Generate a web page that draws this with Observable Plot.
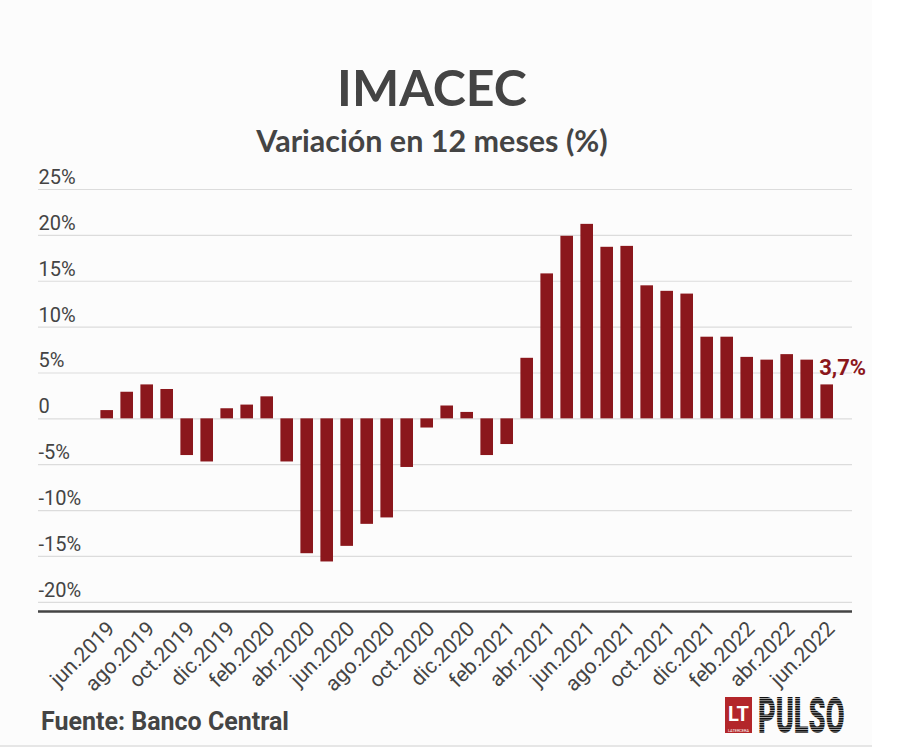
<!DOCTYPE html>
<html>
<head>
<meta charset="utf-8">
<script src="https://cdn.jsdelivr.net/npm/d3@7"></script>
<script src="https://cdn.jsdelivr.net/npm/@observablehq/plot@0.6"></script>
<style>
  html, body { margin: 0; padding: 0; background: #ffffff; }
  #page { position: relative; width: 918px; height: 747px; overflow: hidden; background: #ffffff; }
  #card { position: absolute; left: 0; top: 0; width: 872px; height: 745px; background: #fcfcfc; border-bottom: 2px solid #e6e6e6; }
  .title { position: absolute; left: 0; width: 864px; text-align: center; font-family: Lato, "Open Sans", sans-serif; font-weight: 700; color: #444; line-height: 1; white-space: nowrap; }
  #t1 { top: 62px; font-size: 50px; }
  #t2 { top: 125px; font-size: 30.5px; }
  #chart { position: absolute; left: 0; top: 160px; }
  #source { position: absolute; left: 41px; top: 709px; font-family: Roboto, sans-serif; font-weight: 700; font-size: 25px; line-height: 1; color: #444; white-space: nowrap; }
  #logo { position: absolute; left: 718px; top: 682px; }
</style>
</head>
<body>
<div id="page">
  <div id="card"></div>
  <div class="title" id="t1">IMACEC</div>
  <div class="title" id="t2">Variación en 12 meses (%)</div>
  <div id="chart"></div>
  <div id="source">Fuente: Banco Central</div>
  <svg id="logo" width="140" height="64" viewBox="0 0 140 64">
    <defs>
      <pattern id="stripes" width="8" height="2.4" patternUnits="userSpaceOnUse">
        <rect width="8" height="1.6" fill="#111111"></rect>
        <rect y="1.6" width="8" height="0.8" fill="#bdbdbd"></rect>
      </pattern>
    </defs>
    <rect x="7" y="15" width="27" height="36" fill="#b3262a"></rect>
    <text x="20.5" y="39" text-anchor="middle" font-family="Roboto, sans-serif" font-weight="700" font-size="20" fill="#ffffff">LT</text>
    <text x="20.5" y="49.5" text-anchor="middle" font-family="Roboto, sans-serif" font-weight="400" font-size="3.9" fill="#ffffff">LATERCERA</text>
    <text x="73.4" y="51" transform="scale(0.545,1)" font-family="Roboto, sans-serif" font-weight="900" font-size="50" fill="url(#stripes)">PULSO</text>
  </svg>
</div>
<script>
// Months (categories)
const months = [
  "jun.2019","jul.2019","ago.2019","sep.2019","oct.2019","nov.2019","dic.2019",
  "ene.2020","feb.2020","mar.2020","abr.2020","may.2020","jun.2020","jul.2020",
  "ago.2020","sep.2020","oct.2020","nov.2020","dic.2020",
  "ene.2021","feb.2021","mar.2021","abr.2021","may.2021","jun.2021","jul.2021",
  "ago.2021","sep.2021","oct.2021","nov.2021","dic.2021",
  "ene.2022","feb.2022","mar.2022","abr.2022","may.2022","jun.2022"
];
// IMACEC 12-month variation (%)
const values = [
  0.9, 2.9, 3.7, 3.2, -4.0, -4.7, 1.1,
  1.5, 2.4, -4.7, -14.7, -15.6, -13.9, -11.5,
  -10.8, -5.3, -1.0, 1.4, 0.7,
  -4.0, -2.8, 6.6, 15.8, 19.9, 21.2, 18.7,
  18.8, 14.5, 13.9, 13.6, 8.9,
  8.9, 6.7, 6.4, 7.0, 6.4, 3.7
];
// Tick labels
const xTickLabels = [
  "jun.2019","ago.2019","oct.2019","dic.2019","feb.2020","abr.2020","jun.2020",
  "ago.2020","oct.2020","dic.2020","feb.2021","abr.2021","jun.2021","ago.2021",
  "oct.2021","dic.2021","feb.2022","abr.2022","jun.2022"
];
const yTicks = [25, 20, 15, 10, 5, 0, -5, -10, -15, -20];
const yTickLabels = ["25%", "20%", "15%", "10%", "5%", "0", "-5%", "-10%", "-15%", "-20%"];
const lastLabel = "3,7%";

const data = months.map((m, i) => ({month: m, value: values[i]}));
const yLabelData = yTicks.map((v, i) => ({v, label: yTickLabels[i]}));
const last = data[data.length - 1];

const barColor = "#8b171c";

const chart = Plot.plot({
  width: 918,
  height: 540,
  marginTop: 29,
  marginBottom: 89,
  marginLeft: 38,
  marginRight: 66,
  style: {fontFamily: "Roboto, sans-serif", background: "transparent", color: "#444"},
  x: {type: "band", domain: months, range: [93, 840.4], padding: 0.37, label: null},
  y: {domain: [-21, 25], label: null, axis: null},
  marks: [
    Plot.ruleY(yTicks, {stroke: "#dcdcdc", strokeWidth: 1.2}),
    Plot.text(yLabelData, {y: "v", text: "label", frameAnchor: "left", textAnchor: "start", dy: -12, fontSize: 20, fill: "#444"}),
    Plot.barY(data, {x: "month", y: "value", fill: barColor}),
    Plot.ruleY([-21], {stroke: "#444", strokeWidth: 2.5}),
    Plot.axisX({ticks: xTickLabels, tickSize: 0, tickPadding: 14, tickRotate: -45, fontSize: 21, fill: "#444", dx: 4, label: null}),
    Plot.text([last], {x: "month", y: "value", text: () => lastLabel, textAnchor: "start", dx: -8, dy: -17, fontSize: 22, fontWeight: "bold", fill: barColor})
  ]
});
document.getElementById("chart").appendChild(chart);
</script>
</body>
</html>
